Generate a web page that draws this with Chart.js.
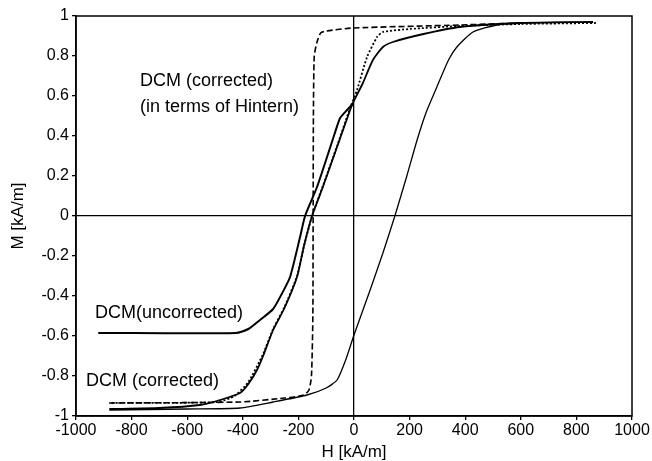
<!DOCTYPE html>
<html>
<head>
<meta charset="utf-8">
<script src="https://cdn.jsdelivr.net/npm/chart.js@4.4.0/dist/chart.umd.min.js"></script>
<style>
    html, body { margin: 0; padding: 0; background: #fff; }
    #wrap { width: 652px; height: 461px; }
</style>
</head>
<body>
<div id="wrap"><canvas id="chart"></canvas></div>
<script>
// H [kA/m], M [kA/m]
const uncorrectedH = [-920, -425, -380, -338, -291, -260, -230, -194, -176, -133, -97, -70, -50, -25, -5];
const uncorrectedM = [-0.585, -0.585, -0.565, -0.52, -0.465, -0.39, -0.305, -0.105, 0, 0.145, 0.295, 0.41, 0.49, 0.53, 0.56];

const descendH = [860, 600, 381, 250, 140, 104, 68, 32, -4, -14, -61, -112, -151, -180, -205, -250, -291, -327, -349, -380, -410, -482, -554, -700, -880];
const descendM = [0.97, 0.965, 0.945, 0.91, 0.87, 0.845, 0.78, 0.665, 0.565, 0.53, 0.345, 0.145, 0, -0.15, -0.305, -0.46, -0.57, -0.7, -0.77, -0.84, -0.885, -0.92, -0.945, -0.96, -0.965];

const ascendH = [-880, -600, -410, -291, -169, -100, -61, -30, 0, 58, 104, 147, 190, 227, 260, 298, 340, 370, 428, 514, 600, 860];
const ascendM = [-0.97, -0.965, -0.96, -0.93, -0.895, -0.86, -0.82, -0.72, -0.595, -0.37, -0.185, 0, 0.2, 0.38, 0.52, 0.645, 0.78, 0.845, 0.92, 0.955, 0.965, 0.97];

const dottedH = [870, 600, 381, 200, 104, 83, 47, 11, -14, -61, -112, -151, -180, -205, -250, -291, -327, -380, -430, -490, -880];
const dottedM = [0.965, 0.96, 0.95, 0.935, 0.92, 0.895, 0.795, 0.63, 0.54, 0.35, 0.15, 0, -0.15, -0.3, -0.455, -0.565, -0.69, -0.83, -0.9, -0.93, -0.935];

const hinternH = [-880, -410, -250, -180, -162, -153, -148, -147, -146, -143, -133, -120, -100, -4, 381, 600];
const hinternM = [-0.935, -0.93, -0.91, -0.895, -0.87, -0.8, -0.5, 0, 0.5, 0.8, 0.87, 0.915, 0.925, 0.94, 0.955, 0.965];

const xTicks = [-1000, -800, -600, -400, -200, 0, 200, 400, 600, 800, 1000];
const yTicks = [-1, -0.8, -0.6, -0.4, -0.2, 0, 0.2, 0.4, 0.6, 0.8, 1];

const notes = [
    { text: "DCM (corrected)", h: -770, m: 0.675 },
    { text: "(in terms of Hintern)", h: -770, m: 0.545 },
    { text: "DCM(uncorrected)", h: -932, m: -0.487 },
    { text: "DCM (corrected)", h: -964, m: -0.825 },
];

const toPoints = (hs, ms) => hs.map((h, i) => ({ x: h, y: ms[i] }));

const line = (data, width, dash) => ({
    data: data,
    borderColor: "#000",
    borderWidth: width,
    borderDash: dash,
    pointRadius: 0,
    showLine: true,
    tension: 0.2,
    fill: false,
});

const frame = {
    id: "frame",
    afterDatasetsDraw(chart) {
        const { ctx, chartArea: a } = chart;
        ctx.save();
        ctx.strokeStyle = "#000";
        ctx.lineWidth = 1.5;
        ctx.strokeRect(a.left, a.top, a.right - a.left, a.bottom - a.top);
        ctx.restore();
    }
};

const labels = {
    id: "labels",
    afterDatasetsDraw(chart) {
        const { ctx, scales } = chart;
        ctx.save();
        ctx.fillStyle = "#000";
        ctx.font = "18px 'Liberation Sans', Arial, sans-serif";
        ctx.textAlign = "left";
        ctx.textBaseline = "middle";
        notes.forEach(n => {
            ctx.fillText(n.text, scales.x.getPixelForValue(n.h), scales.y.getPixelForValue(n.m));
        });
        ctx.restore();
    }
};

const tickFont = { family: "'Liberation Sans', Arial, sans-serif", size: 16 };

new Chart(document.getElementById("chart").getContext("2d"), {
    type: "scatter",
    data: {
        datasets: [
            line(toPoints(uncorrectedH, uncorrectedM), 2, []),
            line(toPoints(descendH, descendM), 1.8, []),
            line(toPoints(ascendH, ascendM), 1.3, []),
            line(toPoints(dottedH, dottedM), 1.8, [2, 2]),
            line(toPoints(hinternH, hinternM), 1.6, [6, 3]),
        ]
    },
    options: {
        responsive: true,
        maintainAspectRatio: false,
        animation: false,
        layout: { padding: { top: 16, right: 20, left: 0, bottom: 0 } },
        plugins: { legend: { display: false }, tooltip: { enabled: false } },
        scales: {
            x: {
                type: "linear",
                min: -1000,
                max: 1000,
                afterBuildTicks: s => { s.ticks = xTicks.map(v => ({ value: v })); },
                afterFit: s => { s.height = 45; },
                ticks: { color: "#000", font: tickFont, padding: 1, maxRotation: 0, callback: v => String(v) },
                grid: {
                    color: c => c.tick && c.tick.value === 0 ? "#000" : "rgba(0,0,0,0)",
                    lineWidth: 1.3,
                    tickColor: "#000",
                    tickLength: 4,
                },
                border: { color: "#000", width: 1.5 },
                title: { display: true, text: "H [kA/m]", color: "#000", font: { ...tickFont, size: 17 }, padding: { top: 0, bottom: -2 } },
            },
            y: {
                type: "linear",
                min: -1,
                max: 1,
                afterBuildTicks: s => { s.ticks = yTicks.map(v => ({ value: v })); },
                afterFit: s => { s.width = 76; },
                ticks: { color: "#000", font: tickFont, padding: 3, callback: v => String(Math.round(v * 10) / 10) },
                grid: {
                    color: c => c.tick && c.tick.value === 0 ? "#000" : "rgba(0,0,0,0)",
                    lineWidth: 1.3,
                    tickColor: "#000",
                    tickLength: 4,
                },
                border: { color: "#000", width: 1.5 },
                title: { display: true, text: "M [kA/m]", color: "#000", font: { ...tickFont, size: 17 }, padding: 8 },
            }
        }
    },
    plugins: [frame, labels],
});
</script>
</body>
</html>
